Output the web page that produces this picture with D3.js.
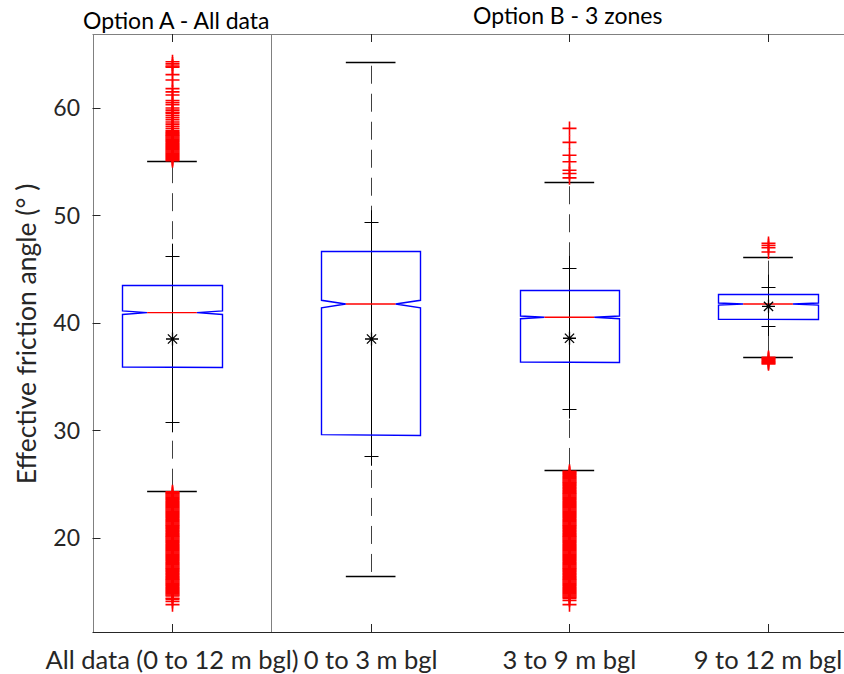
<!DOCTYPE html>
<html><head><meta charset="utf-8">
<script src="https://cdn.jsdelivr.net/npm/d3@7"></script>
<style>body{margin:0;background:#fff}svg{display:block}text{font-family:Lato,"Noto Sans",sans-serif}</style>
</head><body>
<script>
const categories = ["All data (0 to 12 m bgl)", "0 to 3 m bgl", "3 to 9 m bgl", "9 to 12 m bgl"];
const groupTitles = ["Option A - All data", "Option B - 3 zones"];
const yTicks = [20, 30, 40, 50, 60];
const q1 = [35.91, 29.61, 36.37, 40.34];
const q3 = [43.53, 46.73, 43.07, 42.70];
const medians = [40.96, 41.77, 40.53, 41.77];
const notchLo = [40.79, 41.40, 40.40, 41.66];
const notchHi = [41.13, 42.11, 40.65, 41.86];
const whiskerLo = [24.40, 16.47, 26.33, 36.86];
const whiskerHi = [55.05, 64.30, 53.09, 46.17];
const means = [38.51, 38.51, 38.58, 41.55];
const stds = [7.75, 10.86, 6.54, 1.83];
const outliers0 = [64.3, 64.1, 63.9, 63.8, 63.1, 62.6, 61.8, 61.5, 61.2, 60.7, 60.5, 60.3, 60.0, 59.8, 59.6, 59.5, 59.3, 59.1, 58.9, 58.7, 58.5, 58.3, 58.1, 57.9, 57.8, 57.7, 57.6, 57.5, 57.4, 57.3, 57.2, 57.1, 57.0, 56.9, 56.8, 56.7, 56.6, 56.5, 56.4, 56.3, 56.2, 56.1, 56.0, 55.9, 55.8, 55.7, 55.6, 55.5, 55.4, 55.3, 55.2, 55.1,
  24.3, 24.2, 24.1, 24.0, 23.9, 23.8, 23.7, 23.6, 23.5, 23.4, 23.3, 23.2, 23.1, 23.0, 22.9, 22.8, 22.7, 22.6, 22.5, 22.4, 22.3, 22.2, 22.1, 22.0, 21.9, 21.8, 21.7, 21.6, 21.5, 21.4, 21.3, 21.2, 21.1, 21.0, 20.9, 20.8, 20.7, 20.6, 20.5, 20.4, 20.3, 20.2, 20.1, 20.0, 19.9, 19.8, 19.7, 19.6, 19.5, 19.4, 19.3, 19.2, 19.1, 19.0, 18.9, 18.8, 18.7, 18.6, 18.5, 18.4, 18.3, 18.2, 18.1, 18.0, 17.9, 17.8, 17.7, 17.6, 17.5, 17.4, 17.3, 17.2, 17.1, 17.0, 16.9, 16.8, 16.7, 16.6, 16.5, 16.4, 16.3, 16.2, 16.1, 16.0, 15.9, 15.8, 15.7, 15.6, 15.5, 15.4, 15.3, 15.2, 15.1, 15.0, 14.9, 14.8, 14.7, 14.6, 14.4, 14.3, 14.1, 13.8];
const outliers1 = [];
const outliers2 = [58.1, 56.8, 55.6, 55.0, 54.2, 53.9, 53.5,
  26.2, 26.1, 26.0, 25.9, 25.8, 25.7, 25.6, 25.5, 25.4, 25.3, 25.2, 25.1, 25.0, 24.9, 24.8, 24.7, 24.6, 24.5, 24.4, 24.3, 24.2, 24.1, 24.0, 23.9, 23.8, 23.7, 23.6, 23.5, 23.4, 23.3, 23.2, 23.1, 23.0, 22.9, 22.8, 22.7, 22.6, 22.5, 22.4, 22.3, 22.2, 22.1, 22.0, 21.9, 21.8, 21.7, 21.6, 21.5, 21.4, 21.3, 21.2, 21.1, 21.0, 20.9, 20.8, 20.7, 20.6, 20.5, 20.4, 20.3, 20.2, 20.1, 20.0, 19.9, 19.8, 19.7, 19.6, 19.5, 19.4, 19.3, 19.2, 19.1, 19.0, 18.9, 18.8, 18.7, 18.6, 18.5, 18.4, 18.3, 18.2, 18.1, 18.0, 17.9, 17.8, 17.7, 17.6, 17.5, 17.4, 17.3, 17.2, 17.1, 17.0, 16.9, 16.8, 16.7, 16.6, 16.5, 16.4, 16.3, 16.2, 16.1, 16.0, 15.9, 15.8, 15.7, 15.6, 15.5, 15.4, 15.3, 15.2, 15.1, 15.0, 14.9, 14.8, 14.7, 14.6, 14.5, 14.4, 14.2, 13.8];
const outliers3 = [47.4, 47.2, 47.0, 46.6, 36.8, 36.7, 36.6, 36.5, 36.4, 36.3, 36.2];
const outliers = [outliers0, outliers1, outliers2, outliers3];

const W = 844, H = 674;
const svg = d3.select("body").append("svg").attr("width", W).attr("height", H);
const x = d3.scaleLinear().domain([0.6, 4.4]).range([92.5, 847.5]);
const y = d3.scaleLinear().domain([11.256, 66.88]).range([632, 34]);
const hw = 0.25, nw = 0.125, capw = 0.125;
const px = v => Math.round(v) + 0.5;

// frame
const frame = svg.append("g");
frame.append("line").attr("x1", x(0.6)).attr("x2", W).attr("y1", px(y(66.88))).attr("y2", px(y(66.88))).attr("stroke", "#808080");
frame.append("line").attr("x1", px(x(0.6))).attr("x2", px(x(0.6))).attr("y1", y(66.88)).attr("y2", y(11.256)).attr("stroke", "#808080");
frame.append("line").attr("x1", px(x(1.5))).attr("x2", px(x(1.5))).attr("y1", y(66.88)).attr("y2", y(11.256)).attr("stroke", "#808080");
frame.append("line").attr("x1", x(0.6)).attr("x2", W).attr("y1", px(y(11.256))).attr("y2", px(y(11.256))).attr("stroke", "#262626");

// y ticks
yTicks.forEach(t => {
  frame.append("line").attr("x1", x(0.6)).attr("x2", x(0.6) + 8).attr("y1", px(y(t))).attr("y2", px(y(t))).attr("stroke", "#262626");
  frame.append("text").attr("x", 80).attr("y", y(t)).attr("dy", "0.36em").attr("text-anchor", "end")
    .attr("font-size", 23).attr("fill", "#262626").text(t);
});
// x ticks
categories.forEach((c, i) => {
  const xx = px(x(i + 1));
  frame.append("line").attr("x1", xx).attr("x2", xx).attr("y1", y(11.256)).attr("y2", y(11.256) - 8).attr("stroke", "#262626");
  frame.append("line").attr("x1", xx).attr("x2", xx).attr("y1", y(66.88)).attr("y2", y(66.88) + 8).attr("stroke", "#262626");
  frame.append("text").attr("x", x(i + 1)).attr("y", 669).attr("text-anchor", "middle")
    .attr("font-size", 25.5).attr("fill", "#262626").text(c);
});
// titles
svg.append("text").attr("x", 83).attr("y", 29).attr("font-size", 23).attr("fill", "#000").text(groupTitles[0]);
svg.append("text").attr("x", 473).attr("y", 24).attr("font-size", 23).attr("fill", "#000").text(groupTitles[1]);
// y label
svg.append("text").attr("transform", "translate(36,334) rotate(-90)").attr("text-anchor", "middle")
  .attr("font-size", 26.5).attr("fill", "#262626").text("Effective friction angle (° )");

const g = svg.append("g");
categories.forEach((c, i) => {
  const p = i + 1;
  const cx = px(x(p));
  // whiskers dashed
  [[q3[i], whiskerHi[i]], [q1[i], whiskerLo[i]]].forEach(([a, b]) => {
    g.append("line").attr("x1", cx).attr("x2", cx).attr("y1", y(b)).attr("y2", y(a))
      .attr("stroke", "#000").attr("stroke-dasharray", "18,10").attr("stroke-dashoffset", 24).attr("stroke-opacity", 0.75);
    g.append("line").attr("x1", x(p - capw)).attr("x2", x(p + capw)).attr("y1", px(y(b))).attr("y2", px(y(b)))
      .attr("stroke", "#000").attr("stroke-width", 1.3);
  });
  // mean +/- std
  const sHi = means[i] + stds[i], sLo = means[i] - stds[i];
  g.append("line").attr("x1", cx).attr("x2", cx).attr("y1", y(sHi) - 12).attr("y2", y(sLo) + 10).attr("stroke", "#000");
  [sHi, sLo].forEach(v => {
    g.append("line").attr("x1", cx - 7).attr("x2", cx + 7).attr("y1", px(y(v))).attr("y2", px(y(v))).attr("stroke", "#000");
  });
  // notched box
  const L = px(x(p - hw)), R = px(x(p + hw)), Li = x(p - nw), Ri = x(p + nw);
  const path = d3.path();
  path.moveTo(L, y(q1[i]));
  path.lineTo(L, y(notchLo[i]));
  path.lineTo(Li, y(medians[i]));
  path.lineTo(L, y(notchHi[i]));
  path.lineTo(L, px(y(q3[i])));
  path.lineTo(R, px(y(q3[i])));
  path.lineTo(R, y(notchHi[i]));
  path.lineTo(Ri, y(medians[i]));
  path.lineTo(R, y(notchLo[i]));
  path.lineTo(R, px(y(q1[i])));
  path.closePath();
  g.append("path").attr("d", path.toString()).attr("fill", "none").attr("stroke", "#0000ff").attr("stroke-width", 1.4);
  g.append("line").attr("x1", Li).attr("x2", Ri).attr("y1", y(medians[i])).attr("y2", y(medians[i])).attr("stroke", "#ff0000").attr("stroke-width", 1.4);
  // mean star
  const my = y(means[i]), r = 6.5, d = 4.6;
  const star = `M${cx - r},${my}H${cx + r}M${cx},${my - r}V${my + r}M${cx - d},${my - d}L${cx + d},${my + d}M${cx - d},${my + d}L${cx + d},${my - d}`;
  g.append("path").attr("d", star).attr("stroke", "#000").attr("stroke-width", 1.3).attr("fill", "none");
  // outliers
  outliers[i].forEach(v => {
    const oy = y(v);
    g.append("path").attr("d", `M${cx - 7},${oy}H${cx + 7}M${cx},${oy - 7}V${oy + 7}`)
      .attr("stroke", "#ff0000").attr("stroke-width", 1.6).attr("fill", "none");
  });
});
</script>
</body></html>
